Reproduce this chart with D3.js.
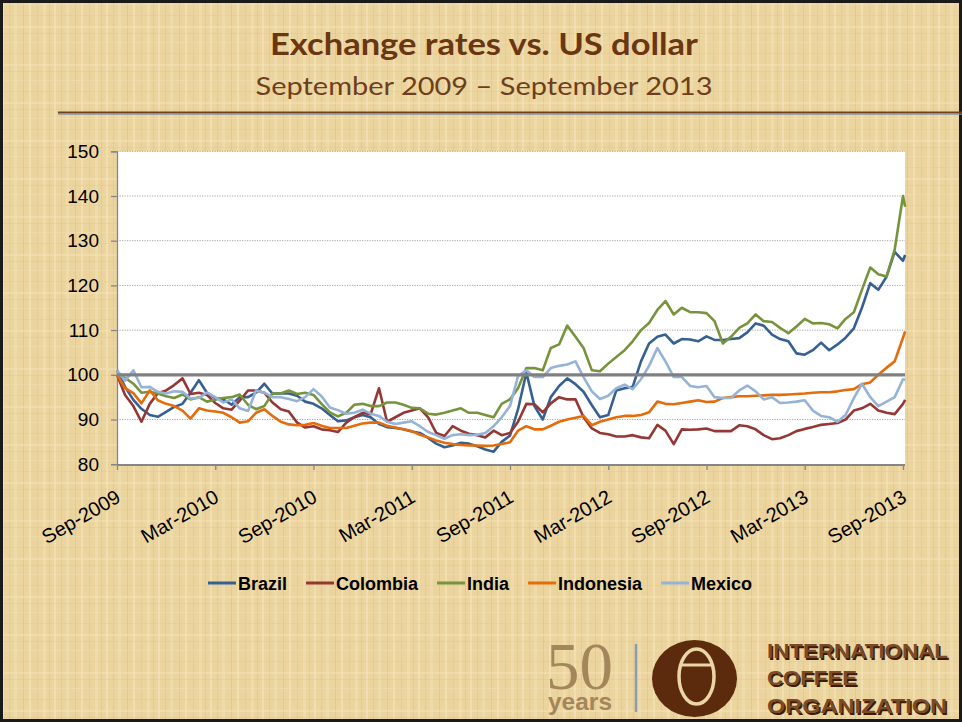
<!DOCTYPE html>
<html><head><meta charset="utf-8">
<script src="https://cdn.jsdelivr.net/npm/d3@7"></script>
<style>body{margin:0;background:#fff}svg{display:block}</style>
</head><body>
<svg id="c" width="962" height="722"></svg>
<script>
// ---- DATA (index, Sep 2009 = 100), semi-monthly readings ----
const seriesNames = ["Brazil","Colombia","India","Indonesia","Mexico"];
const seriesColors = ["#366092","#953735","#77933C","#E46C0A","#95B3D7"];

const brazil = [101,97.3,94.4,92.4,91,90.6,91.7,92.8,93.5,96,98.8,96,94.8,94.5,93.3,95,95,96,98,95.8,
95.8,95.8,95.3,94,93.5,92.5,91,89.6,89.8,90.5,91,90.5,89,88.3,88.1,87.8,87.3,87,85.9,84.6,
83.8,84.2,84.8,84.6,84,83.3,82.8,85,86.4,92.3,100.5,93,90,95,97.5,99.2,97.9,96.2,93.2,90.5,
91,96.5,97,97.3,103,107,108.5,109,107,108,107.9,107.5,108.6,107.8,107.8,108,108.2,109.5,111.5,111,
109,108,107.5,104.8,104.5,105.5,107.2,105.5,106.8,108.3,110.4,115,120.5,119,122,127.5,125.5,126.8];

const colombia = [100,95.5,93,89.5,93.5,95.9,96.5,97.7,99.2,95.7,96,95.5,93.7,92.5,92.2,94.2,96.5,96.5,96,93.8,
92.3,91.8,89.3,88.2,88.5,87.8,87.6,87.2,89.3,90.5,91.5,91.2,97,89.5,90.5,91.5,92,92.5,90.5,87,
86.3,88.5,87.5,86.8,86.5,86,87.5,86.5,87,89.5,93.5,93.4,91.6,93.6,95,94.5,94.5,90.5,88,87,
86.7,86.2,86.2,86.5,86,85.8,88.8,87.5,84.5,87.8,87.7,87.8,88,87.4,87.4,87.4,88.7,88.5,87.8,86.5,
85.6,85.8,86.5,87.4,87.9,88.3,88.8,89,89.2,90,92,92.5,93.5,92,91.5,91.2,93.5,94.4];

const india = [100,99.3,98,96,96.2,95.8,95.2,94.8,95.6,94.5,95,94,94.4,94.8,95,95.6,93.3,92.3,93,95.8,
95.8,96.5,95.7,96,95.5,93.5,91.6,90.7,91.5,93.3,93.5,93,93,93.8,93.8,93.3,92.6,92.5,91.3,91.1,
91.5,92,92.5,91.5,91.5,91,90.5,93.5,94.5,97,101.5,101.5,101,106,106.8,111,108.5,106,101,100.8,
102.5,104,105.5,107.5,110,111.6,114.5,116.5,113.5,115,114,114,113.8,112,107,108.5,110.5,111.5,113.5,112,
111.8,110.5,109.3,110.8,112.5,111.5,111.6,111.3,110.4,112.5,114,119,124,122.5,122,128,140,137.6];

const indonesia = [100,97,95.9,93.6,96.5,94.3,93.5,93,92,90.2,92.5,92,91.8,91.5,90.5,89.3,89.6,91.5,92.3,90.8,
89.5,88.9,88.7,88.8,89.2,88.6,88.1,88.1,88.1,88.6,89.1,89.3,89.3,88.6,88.2,87.8,87.4,86.6,86,85.3,
84.8,84.5,84.3,84.2,84.2,84.1,84.2,84.5,84.9,87.5,88.5,87.8,87.8,88.6,89.5,90,90.4,90.8,88.7,89.5,
90,90.5,90.8,90.8,91,91.6,94,93.5,93.4,93.7,94,94.3,93.9,94,94.8,95,95.2,95.2,95.3,95.4,
95.5,95.5,95.6,95.7,95.8,96,96.1,96.1,96.3,96.6,96.8,97.9,98.3,100,101.6,103,108.3,109.7];

const mexico = [101,98.7,101,97.2,97.3,96.2,95.8,96.3,96.2,94.7,94.8,96,95,93.8,94.5,92.5,91.9,96.5,96,95,
95,94.6,94.1,95,96.8,95.2,92.7,92.1,91.3,91.5,92.2,91.3,90.8,89.5,89,89.3,89.6,88.5,87.2,86.5,
85.7,86.5,86.7,86.5,86.6,87,88.5,90.5,93,99.7,101,99.5,99.5,101.5,102,102.3,103,99.5,96.3,94.6,
95.3,97,97.8,96.8,99,102,106,103,99.5,99.5,97.5,97.2,97.5,95,94.8,94.8,96.5,97.6,96.3,94.5,
95,93.7,93.8,94,94.3,92,90.8,90.5,89.5,91,94.8,98,95,93,94,95,99,98.9];

const seriesValues = [brazil, colombia, india, indonesia, mexico];

// observation dates: 1st and 16th of each month, Sep 2009 .. Sep 2013, plus 5 Sep 2013
const dates = [];
for (let i = 0; i < 97; i++) dates.push(new Date(2009, 8 + Math.floor(i / 2), i % 2 ? 16 : 1));
dates.push(new Date(2013, 8, 5));

const tickLabels = ["Sep-2009","Mar-2010","Sep-2010","Mar-2011","Sep-2011","Mar-2012","Sep-2012","Mar-2013","Sep-2013"];
const yTicks = [80,90,100,110,120,130,140,150];
const baseValue = 100;

// ---- LAYOUT ----
const svg = d3.select("#c");
const W = 962, H = 722;
const plot = {left:117, right:905, top:151.3, bottom:464.2};
const monthOf = d => (d.getFullYear()-2009)*12 + d.getMonth() - 8 + (d.getDate()-1)/30.5;
const x = d3.scaleLinear().domain([0,48]).range([117,903]);
const y = d3.scaleLinear().domain([80,150]).range([plot.bottom, plot.top]);

// background texture
const defs = svg.append("defs");
const pat = defs.append("pattern").attr("id","tex").attr("patternUnits","userSpaceOnUse")
  .attr("width",52).attr("height",38);
pat.append("rect").attr("width",52).attr("height",38).attr("fill","#EBD49E");
[[2,"#F4E4B9",0.7,2],[9,"#DDC287",0.5,1],[14,"#F2E0B0",0.6,3],[23,"#D9BD80",0.45,1],[29,"#F5E6BD",0.6,2],
 [37,"#E0C68C",0.5,1],[43,"#F3E2B4",0.55,3],[49,"#DABF84",0.4,1]].forEach(([px,c,o,w])=>{
  pat.append("rect").attr("x",px).attr("y",0).attr("width",w).attr("height",38).attr("fill",c).attr("opacity",o);
});
[[4,"#F3E3B6",0.45,1],[15,"#DEC48A",0.35,1],[26,"#F4E5BB",0.45,2],[33,"#DCC185",0.3,1]].forEach(([py,c,o,h])=>{
  pat.append("rect").attr("x",0).attr("y",py).attr("width",52).attr("height",h).attr("fill",c).attr("opacity",o);
});
svg.append("rect").attr("width",W).attr("height",H).attr("fill","url(#tex)");
svg.append("rect").attr("x",1.5).attr("y",1.5).attr("width",W-3).attr("height",H-3)
  .attr("fill","none").attr("stroke","#1a1a1a").attr("stroke-width",3);

// title
svg.append("text").attr("x",484).attr("y",55).attr("text-anchor","middle")
  .attr("font-family","Lato, 'Open Sans', sans-serif").attr("font-weight","bold").attr("font-size",31)
  .attr("fill","#6A3712").attr("textLength",428).attr("lengthAdjust","spacingAndGlyphs")
  .text("Exchange rates vs. US dollar");
svg.append("text").attr("x",484).attr("y",94.5).attr("text-anchor","middle")
  .attr("font-family","Lato, 'Open Sans', sans-serif").attr("font-size",25.5)
  .attr("fill","#6E3F1C").attr("textLength",457).attr("lengthAdjust","spacingAndGlyphs")
  .text("September 2009 \u2013 September 2013");
svg.append("line").attr("x1",58).attr("x2",W).attr("y1",112.5).attr("y2",112.5)
  .attr("stroke","#6F4319").attr("stroke-width",2.2);
svg.append("line").attr("x1",58).attr("x2",W).attr("y1",114.2).attr("y2",114.2)
  .attr("stroke","#7F8EA6").attr("stroke-width",1);

// plot area
svg.append("rect").attr("x",plot.left).attr("y",plot.top).attr("width",plot.right-plot.left)
  .attr("height",plot.bottom-plot.top).attr("fill","#fff");

// gridlines
svg.append("g").selectAll("line").data(yTicks.filter(v => v !== 80 && v !== baseValue)).join("line")
  .attr("x1",plot.left).attr("x2",plot.right).attr("y1",d=>y(d)).attr("y2",d=>y(d))
  .attr("stroke","#A3A3A3").attr("stroke-width",1).attr("stroke-dasharray","1.2,1.3");

// y axis
const yAxis = d3.axisLeft(y).tickValues(yTicks).tickSize(6).tickPadding(12).tickFormat(d3.format("d"));
const gy = svg.append("g").attr("transform",`translate(${plot.left},0)`).call(yAxis);
gy.select(".domain").attr("stroke","#868686").attr("stroke-width",1.3);
gy.selectAll(".tick line").attr("stroke","#868686").attr("stroke-width",1.3);
gy.selectAll(".tick text").attr("font-family","'Liberation Sans', Arial, sans-serif")
  .attr("font-size",19).attr("fill","#000");

// x axis
const tickMonths = tickLabels.map((_, i) => i * 6);
const xAxis = d3.axisBottom(x).tickValues(tickMonths).tickSize(5).tickFormat(() => "");
const gx = svg.append("g").attr("transform",`translate(0,${plot.bottom+0.8})`).call(xAxis);
gx.select(".domain").attr("stroke","#868686").attr("stroke-width",2).attr("d",`M${plot.left},0H${plot.right}`);
gx.selectAll(".tick line").attr("stroke","#868686").attr("stroke-width",1.3);
svg.append("g").selectAll("text").data(tickLabels).join("text")
  .attr("transform",(d,i)=>`translate(${x(tickMonths[i])+5},${501}) rotate(-30)`)
  .attr("text-anchor","end").attr("font-family","'Liberation Sans', Arial, sans-serif")
  .attr("font-size",20).attr("fill","#000").text(d=>d);

// series
const line = d3.line().x((d,i)=>x(monthOf(dates[i]))).y(d=>y(d));
svg.append("g").selectAll("path").data(seriesValues).join("path")
  .attr("d",d=>line(d)).attr("fill","none").attr("stroke",(d,i)=>seriesColors[i])
  .attr("stroke-width",2.6).attr("stroke-linejoin","round");

// 100 reference line
svg.append("line").attr("x1",plot.left).attr("x2",plot.right).attr("y1",y(baseValue)).attr("y2",y(baseValue))
  .attr("stroke","#808080").attr("stroke-width",3.2);

// legend
const lg = svg.append("g");
let lx = 208;
seriesNames.forEach((name,i)=>{
  lg.append("line").attr("x1",lx).attr("x2",lx+28).attr("y1",583).attr("y2",583)
    .attr("stroke",seriesColors[i]).attr("stroke-width",3);
  const t = lg.append("text").attr("x",lx+30).attr("y",589.5).attr("font-family","'Liberation Sans', Arial, sans-serif")
    .attr("font-weight","bold").attr("font-size",18).attr("fill","#000").text(name);
  lx += 30 + t.node().getComputedTextLength() + 19;
});

// logo
const logo = svg.append("g");
const fifty = logo.append("text").attr("fill","#A4865B");
fifty.append("tspan").attr("x",546).attr("y",689).attr("font-family","'Liberation Serif', 'DejaVu Serif', serif")
  .attr("font-size",68).attr("textLength",67).attr("lengthAdjust","spacingAndGlyphs").text("50");
fifty.append("tspan").attr("x",548).attr("y",710).attr("font-family","'Liberation Sans', Arial, sans-serif")
  .attr("font-weight","bold").attr("font-size",24)
  .attr("textLength",64).attr("lengthAdjust","spacingAndGlyphs").text("years");
logo.append("line").attr("x1",636).attr("x2",636).attr("y1",644).attr("y2",712)
  .attr("stroke","#8C9BB0").attr("stroke-width",2.5);
logo.append("ellipse").attr("cx",694.5).attr("cy",678.5).attr("rx",42.5).attr("ry",38.5).attr("fill","#5C2A0C");
logo.append("ellipse").attr("cx",696.5).attr("cy",676.5).attr("rx",17.5).attr("ry",27.5)
  .attr("fill","none").attr("stroke","#EBD5A6").attr("stroke-width",3.5);
logo.append("line").attr("x1",680).attr("x2",713).attr("y1",665).attr("y2",665)
  .attr("stroke","#EBD5A6").attr("stroke-width",3);
[["INTERNATIONAL",658,181],["COFFEE",685,90],["ORGANIZATION",713,180]].forEach(([s,by,len])=>{
  logo.append("text").attr("x",768.5).attr("y",by+1.5).attr("font-family","'Liberation Sans', Arial, sans-serif")
    .attr("font-weight","bold").attr("font-size",21).attr("fill","#3B1C08")
    .attr("textLength",len).attr("lengthAdjust","spacingAndGlyphs").text(s);
  logo.append("text").attr("x",767).attr("y",by).attr("font-family","'Liberation Sans', Arial, sans-serif")
    .attr("font-weight","bold").attr("font-size",21).attr("fill","#7C4B26")
    .attr("textLength",len).attr("lengthAdjust","spacingAndGlyphs").text(s);
});
</script>
</body></html>
